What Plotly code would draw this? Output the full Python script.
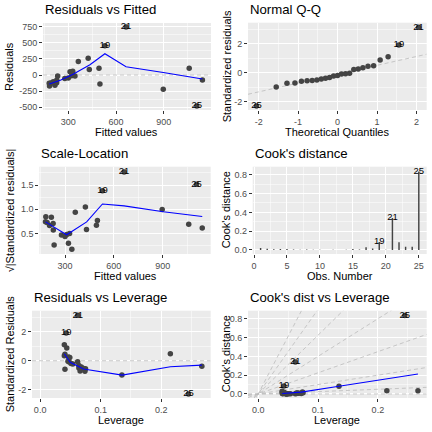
import plotly.graph_objects as go

W = H = 432
FONT = "Liberation Sans, Arial, Helvetica, sans-serif"

# ---------------- data ----------------
obs = list(range(1, 26))
fitted = [182, 180, 205, 216, 227, 228, 233, 190, 278, 311, 321, 328, 342, 300,
          432, 493, 425, 363, 530, 499, 663, 897, 1060, 1143, 1108]
residuals = [-171, -129, -104, -160, -118, -78, -16, -125, -52, 52, -12, 60, -16, -45,
             85, 104, 262, 210, 455, -140, 745, -222, 104, -78, -480]
std_resid = [-0.72, -0.55, -0.44, -0.70, -0.50, -0.33, -0.07, -0.53, -0.22, 0.23, -0.09, 0.25,
             -0.03, -0.19, 0.34, 0.45, 1.10, 0.88, 1.91, -0.59, 3.13, -0.99, 0.48, -0.38, -2.30]
leverage = [0.074, 0.075, 0.068, 0.066, 0.064, 0.064, 0.062, 0.072, 0.054, 0.049, 0.048, 0.047,
            0.046, 0.051, 0.040, 0.041, 0.040, 0.044, 0.043, 0.041, 0.062, 0.135, 0.215, 0.267, 0.245]
cooks = [0.020, 0.012, 0.007, 0.009, 0.010, 0.004, 0.002, 0.005, 0.002, 0.001, 0.0005, 0.001,
         0.0003, 0.001, 0.010, 0.004, 0.030, 0.015, 0.085, 0.002, 0.340, 0.082, 0.035, 0.033, 0.835]
theoretical_q = [-2.054, -1.555, -1.282, -1.080, -0.915, -0.772, -0.643, -0.524, -0.412,
                 -0.305, -0.202, -0.100, 0.0, 0.100, 0.202, 0.305, 0.412, 0.524, 0.643,
                 0.772, 0.915, 1.080, 1.282, 1.555, 2.054]
labelled = [19, 21, 25]

rf_smooth_x = [180, 250, 330, 436, 530, 663, 897, 1143]
rf_smooth_y = [-140, -80, 11, 160, 331, 129, 40, -62]
sl_smooth_x = [180, 310, 433, 530, 663, 904, 1143]
sl_smooth_y = [0.74, 0.475, 0.74, 1.11, 1.07, 0.95, 0.85]
rl_smooth_x = [0.040, 0.0496, 0.0716, 0.1355, 0.215, 0.267]
rl_smooth_y = [0.48, -0.11, -0.57, -0.99, -0.42, -0.30]
cl_smooth_x = [0.040, 0.072, 0.135, 0.215, 0.267]
cl_smooth_y = [0.005, 0.02, 0.082, 0.16, 0.213]

qq_intercept = -0.10
qq_slope = 0.61
cook_contour_slopes = [0, 0.25, 1, 2.25, 4, 6.25, 9, 12.25]

# ---------------- styling ----------------
PT_COL = "#444444"
SMOOTH_COL = "#0000FF"
DASH_COL = "#BBBBBB"
TICK_COL = "#4D4D4D"

# panel plot areas in pixels: (left, right, top, bottom)
panels = {
    1: (43, 211, 23, 110),
    2: (248, 426.7, 22.7, 110),
    3: (39.3, 210.7, 166.7, 254),
    4: (252.7, 426.7, 166.7, 254),
    5: (32, 210.7, 310.7, 398),
    6: (248, 426.7, 310.7, 398),
}
titles = {1: "Residuals vs Fitted", 2: "Normal Q-Q", 3: "Scale-Location",
          4: "Cook's distance", 5: "Residuals vs Leverage", 6: "Cook's dist vs Leverage"}
xtitles = {1: "Fitted values", 2: "Theoretical Quantiles", 3: "Fitted values",
           4: "Obs. Number", 5: "Leverage", 6: "Leverage"}
ytitles = {1: "Residuals", 2: "Standardized residuals", 3: "\u221a|Standardized residuals|",
           4: "Cook's distance", 5: "Standardized Residuals", 6: "Cook's distance"}
ytitle_x = {1: 9.5, 2: 227, 3: 10, 4: 226, 5: 10, 6: 226}
title_y = {1: 9.7, 2: 9.7, 3: 153.7, 4: 153.7, 5: 297.7, 6: 297.7}
xtitle_y = {1: 132.2, 2: 132.2, 3: 276.2, 4: 276.2, 5: 420.2, 6: 420.2}

fit_ticks = [300, 600, 900]
axes = {
    1: dict(xr=[141, 1197], xt=fit_ticks, xl=["300", "600", "900"], xm=[150, 450, 750, 1050],
            yr=[-542, 807], yt=[-500, -250, 0, 250, 500, 750],
            yl=["-500", "-250", "0", "250", "500", "750"], ym=[-375, -125, 125, 375, 625]),
    2: dict(xr=[-2.27, 2.26], xt=[-2, -1, 0, 1, 2], xl=["-2", "-1", "0", "1", "2"],
            xm=[-1.5, -0.5, 0.5, 1.5],
            yr=[-2.57, 3.45], yt=[-2, 0, 2], yl=["-2", "0", "2"], ym=[-1, 1, 3]),
    3: dict(xr=[142, 1195], xt=fit_ticks, xl=["300", "600", "900"], xm=[150, 450, 750, 1050],
            yr=[0.077, 1.88], yt=[0.5, 1.0, 1.5], yl=["0.5", "1.0", "1.5"],
            ym=[0.25, 0.75, 1.25, 1.75]),
    4: dict(xr=[-0.2, 26.2], xt=[0, 5, 10, 15, 20, 25], xl=["0", "5", "10", "15", "20", "25"],
            xm=[2.5, 7.5, 12.5, 17.5, 22.5],
            yr=[-0.043, 0.886], yt=[0, 0.2, 0.4, 0.6, 0.8], yl=["0.0", "0.2", "0.4", "0.6", "0.8"],
            ym=[0.1, 0.3, 0.5, 0.7]),
    5: dict(xr=[-0.0134, 0.2816], xt=[0, 0.1, 0.2], xl=["0.0", "0.1", "0.2"], xm=[0.05, 0.15, 0.25],
            yr=[-2.57, 3.45], yt=[-2, 0, 2], yl=["-2", "0", "2"], ym=[-1, 1, 3]),
    6: dict(xr=[-0.017, 0.2816], xt=[0, 0.1, 0.2], xl=["0.0", "0.1", "0.2"], xm=[0.05, 0.15, 0.25],
            yr=[-0.043, 0.886], yt=[0, 0.2, 0.4, 0.6, 0.8], yl=["0.0", "0.2", "0.4", "0.6", "0.8"],
            ym=[0.1, 0.3, 0.5, 0.7]),
}

fig = go.Figure()


def ax(i):
    return ("x" if i == 1 else f"x{i}"), ("y" if i == 1 else f"y{i}")


def add_points(i, xs, ys):
    xa, ya = ax(i)
    fig.add_trace(go.Scatter(x=xs, y=ys, mode="markers", xaxis=xa, yaxis=ya,
                             marker=dict(size=5.5, color=PT_COL, line=dict(width=0)),
                             hoverinfo="skip"))


def add_line(i, xs, ys, color, width, dash="solid"):
    xa, ya = ax(i)
    fig.add_trace(go.Scatter(x=xs, y=ys, mode="lines", xaxis=xa, yaxis=ya,
                             line=dict(color=color, width=width, dash=dash), hoverinfo="skip"))


def add_labels(i, xs, ys, texts):
    xa, ya = ax(i)
    fig.add_trace(go.Scatter(x=xs, y=ys, mode="text", xaxis=xa, yaxis=ya, text=texts,
                             textposition="middle center", cliponaxis=False,
                             textfont=dict(family=FONT, size=9.5, color="black"),
                             hoverinfo="skip"))


def dashed_hline(i, yv):
    xr = axes[i]["xr"]
    add_line(i, xr, [yv, yv], DASH_COL, 0.8, "4px,3px")


lab_idx = [o - 1 for o in labelled]
lab_txt = [str(o) for o in labelled]

# 1. Residuals vs Fitted
dashed_hline(1, 0)
add_points(1, fitted, residuals)
add_line(1, rf_smooth_x, rf_smooth_y, SMOOTH_COL, 1.1)
add_labels(1, [fitted[k] for k in lab_idx], [residuals[k] for k in lab_idx], lab_txt)

# 2. Normal Q-Q
order = sorted(range(len(std_resid)), key=lambda k: std_resid[k])
qq_sample = [std_resid[k] for k in order]
xr2 = axes[2]["xr"]
add_line(2, xr2, [qq_intercept + qq_slope * v for v in xr2], DASH_COL, 0.8, "4px,3px")
add_points(2, theoretical_q, qq_sample)
pos = {k: r for r, k in enumerate(order)}
add_labels(2, [theoretical_q[pos[k]] for k in lab_idx], [std_resid[k] for k in lab_idx], lab_txt)

# 3. Scale-Location
sl = [abs(v) ** 0.5 for v in std_resid]
add_points(3, fitted, sl)
add_line(3, sl_smooth_x, sl_smooth_y, SMOOTH_COL, 1.1)
add_labels(3, [fitted[k] for k in lab_idx], [sl[k] for k in lab_idx], lab_txt)

# 4. Cook's distance
fig.add_trace(go.Bar(x=obs, y=cooks, width=0.22, xaxis="x4", yaxis="y4",
                     marker=dict(color=PT_COL, line=dict(width=0)), hoverinfo="skip"))
add_labels(4, labelled, [cooks[k] for k in lab_idx], lab_txt)

# 5. Residuals vs Leverage
dashed_hline(5, 0)
add_points(5, leverage, std_resid)
add_line(5, rl_smooth_x, rl_smooth_y, SMOOTH_COL, 1.1)
add_labels(5, [leverage[k] for k in lab_idx], [std_resid[k] for k in lab_idx], lab_txt)

# 6. Cook's dist vs Leverage
xr6 = axes[6]["xr"]
for s in cook_contour_slopes:
    add_line(6, xr6, [s * v for v in xr6], DASH_COL, 0.8, "4px,3px")
add_points(6, leverage, cooks)
add_line(6, cl_smooth_x, cl_smooth_y, SMOOTH_COL, 1.1)
add_labels(6, [leverage[k] for k in lab_idx], [cooks[k] for k in lab_idx], lab_txt)

# ---------------- layout ----------------
layout = dict(template="none", width=W, height=H, autosize=False,
              margin=dict(l=0, r=0, t=0, b=0, pad=0),
              paper_bgcolor="white", plot_bgcolor="#EBEBEB", showlegend=False,
              hovermode=False,
              font=dict(family=FONT, color="black"), annotations=[])

for i, (l, r, t, b) in panels.items():
    a = axes[i]
    xa_name = "xaxis" if i == 1 else f"xaxis{i}"
    ya_name = "yaxis" if i == 1 else f"yaxis{i}"
    xa, ya = ax(i)
    common = dict(showline=False, zeroline=False, ticks="outside", ticklen=3, tickwidth=1,
                  tickcolor="#333333", tickfont=dict(family=FONT, size=9, color=TICK_COL),
                  showgrid=True, gridcolor="white", gridwidth=1, tickmode="array",
                  fixedrange=True, automargin=False)
    layout[xa_name] = dict(common, domain=[l / W, r / W], range=a["xr"], anchor=ya,
                           tickvals=a["xt"], ticktext=a["xl"],
                           minor=dict(tickmode="array", tickvals=a["xm"], showgrid=True,
                                      gridcolor="white", gridwidth=0.5, ticks=""))
    layout[ya_name] = dict(common, domain=[1 - b / H, 1 - t / H], range=a["yr"], anchor=xa,
                           tickvals=a["yt"], ticktext=a["yl"],
                           minor=dict(tickmode="array", tickvals=a["ym"], showgrid=True,
                                      gridcolor="white", gridwidth=0.5, ticks=""))
    layout["annotations"].append(dict(text=titles[i], xref="paper", yref="paper",
                                      x=l / W, y=1 - title_y[i] / H, xanchor="left",
                                      yanchor="middle", showarrow=False,
                                      font=dict(family=FONT, size=13.2, color="black")))
    layout["annotations"].append(dict(text=xtitles[i], xref="paper", yref="paper",
                                      x=(l + r) / 2 / W, y=1 - xtitle_y[i] / H, xanchor="center",
                                      yanchor="middle", showarrow=False,
                                      font=dict(family=FONT, size=11, color="black")))
    layout["annotations"].append(dict(text=ytitles[i], xref="paper", yref="paper",
                                      x=ytitle_x[i] / W, y=1 - (t + b) / 2 / H, xanchor="center",
                                      yanchor="middle", textangle=-90, showarrow=False,
                                      font=dict(family=FONT, size=11, color="black")))

fig.update_layout(**layout)
fig.write_html("out.html", config={"displayModeBar": False, "staticPlot": True},
               post_script="document.body.style.margin='0';document.body.style.padding='0';")
